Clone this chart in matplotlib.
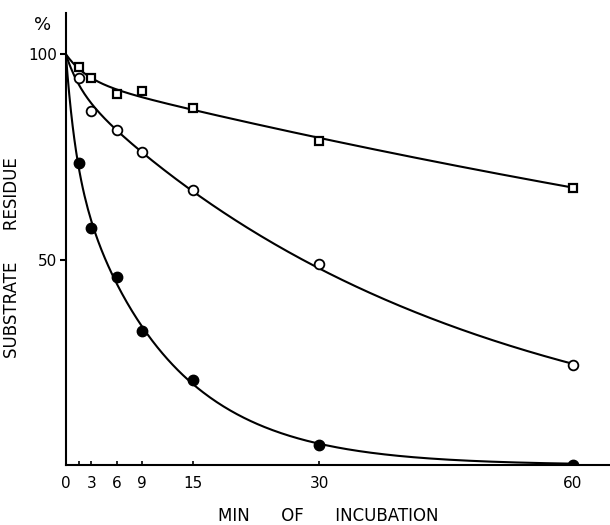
import numpy as np
import matplotlib
matplotlib.use('Agg')
import matplotlib.pyplot as plt

# time points (min) and substrate residue (%)
minutes = [1.5, 3, 6, 9, 15, 30, 60]
squares = [96.8, 94.2, 90.2, 91.0, 86.8, 78.9, 67.5]
open_circles = [94.1, 86.2, 81.5, 76.2, 66.9, 49.0, 24.3]
filled_circles = [73.6, 57.8, 45.9, 32.6, 20.6, 5.0, 0.0]

tick_pos = [0, 1.5, 3, 6, 9, 15, 30, 60]
tick_txt = ['0', '', '3', '6', '9', '15', '30', '60']


def fit_curve(t, v):
    # least-squares biexponential fit starting at 100 % (grid over rates)
    t = np.asarray(t, float)
    v = np.asarray(v, float) / 100.0
    best = None
    ks = np.logspace(-4, 0.5, 120)
    for k1 in ks:
        for k2 in ks:
            if k2 > k1:
                continue
            e1 = np.exp(-k1 * t)
            e2 = np.exp(-k2 * t)
            d = e1 - e2
            den = np.dot(d, d)
            a = np.dot(v - e2, d) / den if den > 0 else 0.0
            a = min(max(a, 0.0), 1.0)
            err = np.sum((a * e1 + (1 - a) * e2 - v) ** 2)
            if best is None or err < best[0]:
                best = (err, a, k1, k2)
    _, a, k1, k2 = best
    tt = np.linspace(0, max(t), 300)
    return tt, 100 * (a * np.exp(-k1 * tt) + (1 - a) * np.exp(-k2 * tt))


fig = plt.figure(figsize=(6.1, 5.25), dpi=100)
ax = fig.add_axes([0.108, 0.114, 0.892, 0.861])

for vals in (squares, open_circles, filled_circles):
    tt, yy = fit_curve(minutes, vals)
    ax.plot(tt, yy, color='black', lw=1.5, zorder=2)

ax.plot(minutes, squares, ls='none', marker='s', ms=6, mfc='white', mec='black', mew=1.6, zorder=3)
ax.plot(minutes, open_circles, ls='none', marker='o', ms=7, mfc='white', mec='black', mew=1.3, zorder=3)
ax.plot(minutes, filled_circles, ls='none', marker='o', ms=7.5, mfc='black', mec='black', zorder=3)

ax.set_xlim(0, 64.4)
ax.set_ylim(0, 110)
ax.spines['top'].set_visible(False)
ax.spines['right'].set_visible(False)
ax.spines['left'].set_linewidth(1.5)
ax.spines['bottom'].set_linewidth(1.5)

ax.set_xticks(tick_pos)
ax.set_xticklabels(tick_txt, fontsize=11)
ax.set_yticks([50, 100])
ax.set_yticklabels(['50', '100'], fontsize=11)
ax.tick_params(axis='x', direction='in', length=3, width=1.2, pad=8)
ax.tick_params(axis='y', direction='out', length=4, width=1.5, pad=2)

ax.set_xlabel('MIN      OF      INCUBATION', fontsize=12)
ax.xaxis.set_label_coords(0.482, -0.092)
ax.set_ylabel('SUBSTRATE      RESIDUE', fontsize=12)
ax.yaxis.set_label_coords(-0.082, 0.46)
fig.text(0.07, 0.952, '%', fontsize=13, ha='center', va='center')

fig.savefig('out.png', dpi=100)
